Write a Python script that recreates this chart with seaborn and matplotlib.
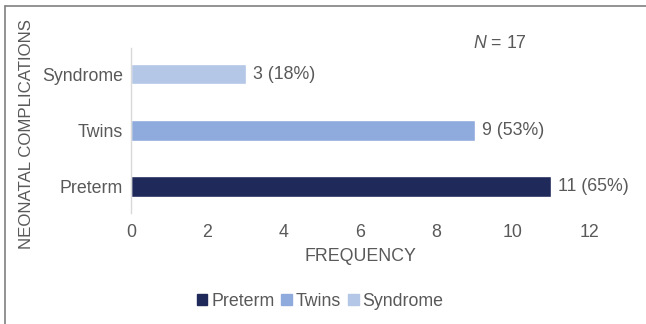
import matplotlib
matplotlib.use("Agg")
import matplotlib.pyplot as plt
import seaborn as sns
import pandas as pd
from matplotlib.patches import Rectangle
from matplotlib.lines import Line2D

categories = ["Syndrome", "Twins", "Preterm"]
frequency = [3, 9, 11]
percent_labels = ["3 (18%)", "9 (53%)", "11 (65%)"]
colors = {"Preterm": "#1F295A", "Twins": "#8FAADC", "Syndrome": "#B4C7E7"}
legend_order = ["Preterm", "Twins", "Syndrome"]
xticks = [0, 2, 4, 6, 8, 10, 12]

sns.set_style("white")
plt.rcParams["font.family"] = ["Liberation Sans", "DejaVu Sans"]
plt.rcParams["mathtext.fontset"] = "custom"
plt.rcParams["mathtext.it"] = "Liberation Sans:italic"
plt.rcParams["mathtext.rm"] = "Liberation Sans"
grey = "#595959"
fs = 12.8

df = pd.DataFrame({"cat": categories, "freq": frequency})

fig = plt.figure(figsize=(6.46, 3.24), dpi=100)
ax = fig.add_axes([0.203, 0.343, 0.709, 0.509])

sns.barplot(data=df, y="cat", x="freq", hue="cat", order=categories,
            palette=colors, width=0.36, legend=False, ax=ax, orient="h",
            saturation=1)

for container, lab in zip(ax.containers, percent_labels):
    ax.bar_label(container, labels=[lab], padding=5, fontsize=fs, color=grey)

ax.set_xlim(0, 12)
ax.set_xticks(xticks)
ax.set_ylim(2.47, -0.47)
ax.tick_params(axis="x", length=0, labelsize=fs, colors=grey, pad=8)
ax.tick_params(axis="y", length=0, labelsize=fs, colors=grey, pad=6)
for s in ["top", "right", "bottom"]:
    ax.spines[s].set_visible(False)
ax.spines["left"].set_color("#D9D9D9")
ax.spines["left"].set_linewidth(1)
ax.set_xlabel("FREQUENCY", fontsize=fs, color=grey, labelpad=5)
ax.set_ylabel("")
fig.text(27 / 646, 1 - 134 / 324, "NEONATAL COMPLICATIONS", rotation=90,
         ha="center", va="center", fontsize=12.2, color=grey)

fig.text(473 / 646, 1 - 43 / 324, "$N$ = 17", fontsize=fs, color=grey,
         ha="left", va="center")

handles = [Rectangle((0, 0), 1, 1, color=colors[c]) for c in legend_order]
fig.legend(handles, legend_order, loc="center", bbox_to_anchor=(320 / 646, 1 - 301 / 324),
           ncol=3, frameon=False, fontsize=fs, labelcolor=grey,
           handlelength=0.6, handleheight=0.6, handletextpad=0.2, columnspacing=0.4)

fig.add_artist(Line2D([5 / 646, 5 / 646], [0, 1 - 6 / 324], transform=fig.transFigure,
                      color="#808080", linewidth=1.2))
fig.add_artist(Line2D([5 / 646, 1], [1 - 6 / 324, 1 - 6 / 324], transform=fig.transFigure,
                      color="#808080", linewidth=1.2))

fig.savefig("out.png", dpi=100)
